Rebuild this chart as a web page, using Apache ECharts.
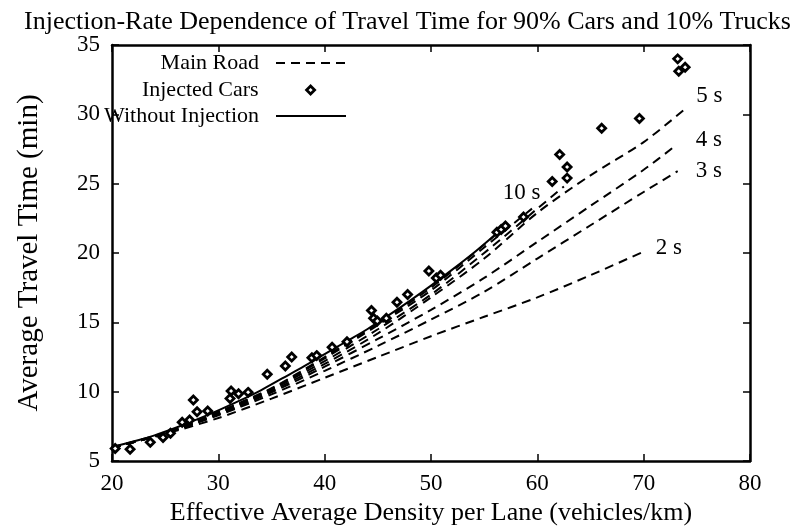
<!DOCTYPE html>
<html><head><meta charset="utf-8">
<script src="https://cdn.jsdelivr.net/npm/echarts@6/dist/echarts.min.js"></script>
<style>html,body{margin:0;padding:0;background:#fff}#c{width:791px;height:531px}</style>
</head><body><div id="c"></div>
<script>
// ---- data ----
const titleText = "Injection-Rate Dependence of Travel Time for 90% Cars and 10% Trucks";
const xTicks = [20, 30, 40, 50, 60, 70, 80];
const yTicks = [5, 10, 15, 20, 25, 30, 35];

// Main road, 2 s
const road2sX = [20, 25, 30, 35, 40, 45, 50, 55, 60, 65, 70];
const road2sY = [5.95, 6.95, 8.1, 9.5, 11.0, 12.5, 14.0, 15.4, 16.8, 18.4, 20.1];
// Main road, 3 s
const road3sX = [20, 25, 30, 35, 40, 45, 50, 55, 60, 65, 70, 73.2];
const road3sY = [5.95, 7.0, 8.3, 9.8, 11.5, 13.3, 15.2, 17.2, 19.6, 22.0, 24.4, 25.9];
// Main road, 4 s
const road4sX = [20, 25, 30, 35, 40, 45, 50, 55, 60, 65, 70, 73.1];
const road4sY = [5.95, 7.0, 8.35, 9.95, 11.8, 13.8, 15.9, 18.2, 20.8, 23.4, 26.0, 27.8];
// Main road, 5 s
const road5sX = [20, 25, 30, 35, 40, 45, 50, 55, 60, 65, 70, 73.9];
const road5sY = [5.95, 7.0, 8.4, 10.05, 12.0, 14.2, 16.8, 19.6, 22.9, 25.6, 28.0, 30.4];
// Main road, 6 s
const road6sX = [20, 25, 30, 35, 40, 45, 50, 55, 60, 62.5];
const road6sY = [5.95, 7.0, 8.45, 10.15, 12.2, 14.5, 17.0, 20.0, 23.2, 24.8];
// Main road, 8 s
const road8sX = [20, 25, 30, 35, 40, 45, 50, 55, 59.5];
const road8sY = [5.95, 7.0, 8.5, 10.2, 12.4, 14.8, 17.3, 20.4, 23.2];
// Main road, 10 s
const road10sX = [20, 25, 30, 35, 40, 45, 50, 55, 57.5];
const road10sY = [6.0, 7.05, 8.55, 10.25, 12.5, 14.9, 17.5, 20.6, 22.3];

// Without injection
const noInjX = [20, 22, 24, 26, 28, 30, 32, 34, 36, 38, 40, 42, 44, 46, 48, 50, 52, 54, 56, 56.6];
const noInjY = [6.0, 6.4, 6.85, 7.4, 8.0, 8.65, 9.35, 10.1, 10.95, 11.8, 12.7, 13.6, 14.5, 15.5, 16.55, 17.65, 18.8, 20.0, 21.3, 21.7];

// Injected cars
const carsX = [20.3, 21.7, 23.6, 24.8, 25.5, 26.6, 27.3, 27.65, 28.0, 29.0, 31.1, 31.2, 31.9, 32.8, 34.6, 36.3, 36.9, 38.8, 39.25, 40.7, 42.1, 44.4, 44.6, 44.95, 45.8, 46.8, 47.8, 49.8, 50.5, 50.9, 56.2, 56.6, 57.0, 58.7, 61.4, 62.1, 62.8, 62.8, 66.05, 69.6, 73.2, 73.3, 73.9];
const carsY = [5.9, 5.85, 6.35, 6.7, 7.0, 7.8, 7.95, 9.4, 8.55, 8.6, 9.5, 10.05, 9.85, 9.95, 11.25, 11.85, 12.5, 12.45, 12.6, 13.2, 13.6, 15.85, 15.3, 15.1, 15.3, 16.45, 17.0, 18.7, 18.2, 18.4, 21.5, 21.7, 21.95, 22.6, 25.15, 27.1, 26.2, 25.4, 29.0, 29.7, 34.0, 33.1, 33.4];

const roadLabels = ["2 s", "3 s", "4 s", "5 s", "", "", "10 s"];
// ---------------------------------------

const FONT = "'Liberation Serif','Times New Roman',serif";
const zip = (xs, ys) => xs.map((x, i) => [x, ys[i]]);
const roads = [
  [road2sX, road2sY, [4, -4]],
  [road3sX, road3sY, [10, 0]],
  [road4sX, road4sY, [11, -5]],
  [road5sX, road5sY, [3, -13]],
  [road6sX, road6sY, [0, 0]],
  [road8sX, road8sY, [0, 0]],
  [road10sX, road10sY, [-16, -28]]
];

const dashStyle = { color: '#000', width: 2, type: [9, 6] };

const series = roads.map((r, i) => ({
  name: 'Main Road',
  type: 'line',
  data: zip(r[0], r[1]),
  symbol: 'none',
  smooth: 0.3,
  lineStyle: dashStyle,
  itemStyle: { color: '#000', opacity: 0 },
  z: 3,
  endLabel: {
    show: roadLabels[i] !== "",
    formatter: roadLabels[i],
    offset: r[2],
    fontFamily: FONT, fontSize: 23, color: '#000'
  }
}));

series.push({
  name: 'Without Injection',
  type: 'line',
  data: zip(noInjX, noInjY),
  symbol: 'none',
  smooth: 0.3,
  lineStyle: { color: '#000', width: 2, type: 'solid' },
  itemStyle: { color: '#000', opacity: 0 },
  z: 4
});

series.push({
  name: 'Injected Cars',
  type: 'scatter',
  data: zip(carsX, carsY),
  symbol: 'diamond',
  symbolSize: 8,
  itemStyle: { color: '#fff', borderColor: '#000', borderWidth: 2.8, opacity: 1 },
  z: 5
});

const axisCommon = {
  type: 'value',
  axisLine: { show: true, lineStyle: { color: '#000', width: 2.5 } },
  axisTick: { show: true, inside: true, length: 7, lineStyle: { color: '#000', width: 1.5 } },
  splitLine: { show: false },
  axisLabel: { fontFamily: FONT, fontSize: 23, color: '#000' }
};

const legendCommon = {
  orient: 'vertical',
  align: 'right',
  selectedMode: false,
  itemWidth: 70,
  itemHeight: 14,
  itemStyle: { opacity: 0 },
  textStyle: { fontFamily: FONT, fontSize: 22, color: '#000', padding: [0, 12, 0, 0] }
};

const chart = echarts.init(document.getElementById('c'), null, { renderer: 'canvas' });
chart.setOption({
  animation: false,
  backgroundColor: '#fff',
  title: {
    text: titleText,
    left: 19,
    top: 4,
    textStyle: { fontFamily: FONT, fontSize: 26, fontWeight: 'normal', color: '#000' }
  },
  grid: { left: 112, right: 41, top: 45, bottom: 70, containLabel: false },
  legend: [
    Object.assign({}, legendCommon, { data: ['Main Road'], right: 439, top: 47 }),
    Object.assign({}, legendCommon, {
      data: [{ name: 'Injected Cars', icon: 'diamond' }], right: 470, top: 74,
      itemWidth: 8, itemHeight: 8,
      itemStyle: { color: '#fff', borderColor: '#000', borderWidth: 2.8, opacity: 1 },
      textStyle: Object.assign({}, legendCommon.textStyle, { padding: [0, 43, 0, 0] })
    }),
    Object.assign({}, legendCommon, { data: ['Without Injection'], right: 439, top: 100 })
  ],
  xAxis: [
    Object.assign({}, axisCommon, {
      min: 20, max: 80, interval: 10, position: 'bottom',
      axisLabel: Object.assign({}, axisCommon.axisLabel, { margin: 11, formatter: v => xTicks.includes(v) ? String(v) : '' }),
      name: 'Effective Average Density per Lane (vehicles/km)',
      nameLocation: 'middle', nameGap: 35,
      nameTextStyle: { fontFamily: FONT, fontSize: 26, color: '#000' }
    }),
    Object.assign({}, axisCommon, {
      min: 20, max: 80, interval: 10, position: 'top',
      axisLabel: { show: false }
    })
  ],
  yAxis: [
    Object.assign({}, axisCommon, {
      min: 5, max: 35, interval: 5, position: 'left',
      axisLabel: Object.assign({}, axisCommon.axisLabel, { margin: 12, formatter: v => yTicks.includes(v) ? String(v) : '' }),
      name: 'Average Travel Time (min)',
      nameLocation: 'middle', nameGap: 68,
      nameTextStyle: { fontFamily: FONT, fontSize: 29, color: '#000' }
    }),
    Object.assign({}, axisCommon, {
      min: 5, max: 35, interval: 5, position: 'right',
      axisLabel: { show: false }
    })
  ],
  series: series
});
</script>
</body></html>
